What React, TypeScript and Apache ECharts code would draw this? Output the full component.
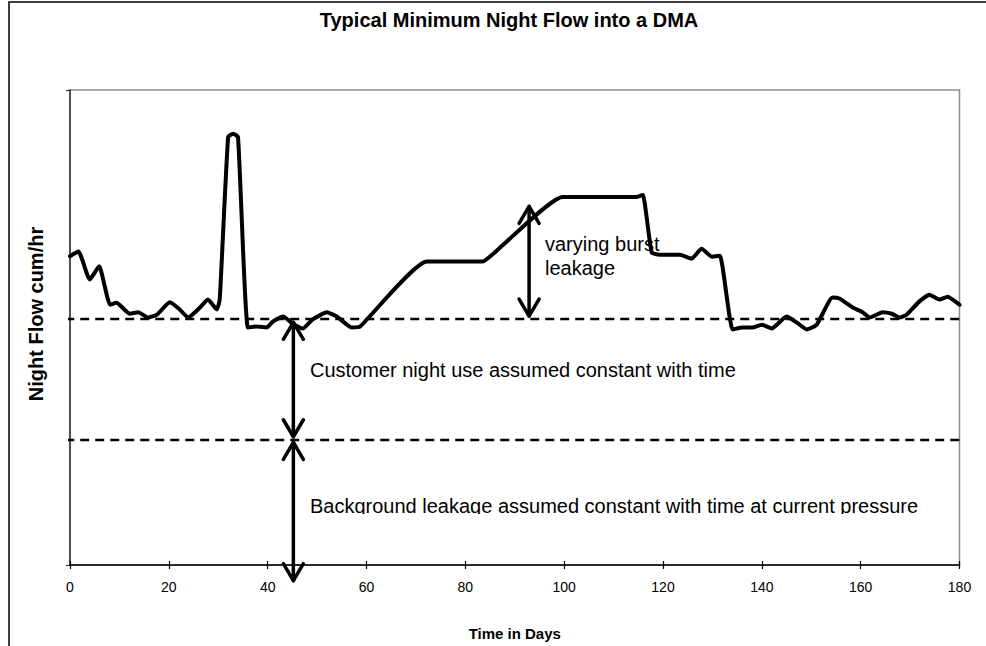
import React, { useEffect, useRef } from "react";
import * as echarts from "echarts";

// ---- data ----
const curveDays = [0, 1.7, 4.0, 5.9, 8.1, 9.4, 12.1, 13.8, 15.8, 17.6, 20.2, 22.2, 23.9, 26.3, 27.9, 29.7, 30.3, 32.0, 33.0, 34.0, 36.0, 37.8, 39.8, 41.1, 43.1, 45.1, 47.1, 49.1, 52.0, 54.0, 57.0, 58.7, 72.2, 83.5, 87.0, 99.7, 114.7, 115.9, 117.7, 119.3, 123.4, 125.8, 127.8, 129.9, 131.5, 134.1, 136.1, 138.1, 140.0, 142.0, 145.0, 147.0, 149.1, 151.1, 154.3, 155.7, 158.4, 160.4, 161.8, 164.4, 166.3, 167.9, 169.3, 171.9, 173.9, 175.9, 177.6, 180];
const curveFlow = [65.0, 66.0, 60.1, 62.9, 54.8, 55.2, 52.9, 53.2, 52.1, 52.7, 55.3, 53.8, 52.1, 54.2, 55.9, 53.8, 55.9, 90.1, 90.8, 90.1, 50.0, 50.2, 50.0, 51.3, 52.3, 50.8, 49.8, 51.7, 53.2, 52.3, 50.0, 50.2, 63.9, 63.9, 66.8, 77.5, 77.5, 77.9, 65.8, 65.3, 65.3, 64.5, 66.6, 64.9, 65.1, 49.6, 50.0, 50.0, 50.6, 49.8, 52.3, 51.1, 49.6, 50.6, 56.3, 56.1, 54.2, 53.2, 52.1, 53.2, 52.9, 52.1, 52.7, 55.5, 56.9, 55.9, 56.5, 54.8];

const customerLevel = 51.8;
const backgroundLevel = 26.3;
const levelDays = [-4, 180];

const arrowDays = [45.2, 45.2, 92.9];
const arrowFrom = [51.1, 25.8, 75.5];
const arrowTo = [27.0, -3.3, 52.4];

const xMin = 0;
const xMax = 180;
const xStep = 20;
const yMin = 0;
const yMax = 100;

const titleText = "Typical Minimum Night Flow into a DMA";
const xTitle = "Time in Days";
const yTitle = "Night Flow cum/hr";
const burstText = "varying burst\nleakage";
const customerText = "Customer night use assumed constant with time";
const backgroundText = "Background leakage assumed constant with time at current pressure";

const FONT = "'Liberation Sans', Arial, Helvetica, sans-serif";

export default function App() {
  const ref = useRef<HTMLDivElement>(null);

  useEffect(() => {
    if (!ref.current) return;
    const chart = echarts.init(ref.current, null, { renderer: "svg" });

    const curveData = curveDays.map((d, i) => [d, curveFlow[i]]);
    const arrowData = arrowDays.map((d, i) => [d, arrowFrom[i], arrowTo[i]]);

    const option: any = {
      animation: false,
      backgroundColor: "#ffffff",
      textStyle: { fontFamily: FONT },
      grid: {
        left: 70,
        right: 26.5,
        top: 90,
        bottom: 80,
        show: true,
        borderColor: "#8c8c8c",
        borderWidth: 1.5,
        backgroundColor: "transparent",
      },
      xAxis: [
        {
          type: "value",
          min: xMin,
          max: xMax,
          interval: xStep,
          position: "bottom",
          axisLine: { show: true, onZero: false, lineStyle: { color: "#000", width: 1.5 } },
          axisTick: { show: true, length: 4, lineStyle: { color: "#000", width: 1.2 } },
          axisLabel: { fontSize: 14, color: "#000", margin: 15, fontFamily: FONT },
          splitLine: { show: false },
          name: xTitle,
          nameLocation: "middle",
          nameGap: 61,
          nameTextStyle: { fontSize: 15, fontWeight: "bold", color: "#000", fontFamily: FONT },
        },
        {
          type: "value",
          min: xMin,
          max: xMax,
          interval: xStep,
          position: "bottom",
          axisLine: { show: false, onZero: false },
          axisTick: { show: true, inside: true, length: 4, lineStyle: { color: "#000", width: 1.2 } },
          axisLabel: { show: false },
          splitLine: { show: false },
        },
      ],
      yAxis: {
        type: "value",
        min: yMin,
        max: yMax,
        interval: yMax - yMin,
        axisLine: { show: true, onZero: false, lineStyle: { color: "#333", width: 1.5 } },
        axisTick: { show: true, length: 4, lineStyle: { color: "#333", width: 1.2 } },
        axisLabel: { show: false },
        splitLine: { show: false },
      },
      series: [
        {
          type: "line",
          name: "Customer night use level",
          data: levelDays.map((d) => [d, customerLevel]),
          symbol: "none",
          clip: false,
          lineStyle: { color: "#000", width: 2.5, type: [9, 6] },
          z: 2,
        },
        {
          type: "line",
          name: "Background leakage level",
          data: levelDays.map((d) => [d, backgroundLevel]),
          symbol: "none",
          clip: false,
          lineStyle: { color: "#000", width: 2.5, type: [9, 6] },
          z: 2,
        },
        {
          type: "line",
          name: "Night flow",
          data: curveData,
          symbol: "none",
          smooth: 0.15,
          lineStyle: { color: "#000", width: 4, cap: "round", join: "round" },
          z: 3,
        },
        {
          type: "custom",
          name: "arrows",
          data: arrowData,
          clip: false,
          z: 4,
          renderItem: (params: any, api: any) => {
            const x = api.value(0);
            const a = api.coord([x, api.value(1)]);
            const b = api.coord([x, api.value(2)]);
            const top = a[1] < b[1] ? a : b;
            const bot = a[1] < b[1] ? b : a;
            const hw = 10;
            const hh = 17;
            const style = { stroke: "#000", lineWidth: 3.5, fill: null, lineCap: "round", lineJoin: "round" };
            return {
              type: "group",
              children: [
                { type: "line", shape: { x1: top[0], y1: top[1], x2: bot[0], y2: bot[1] }, style },
                { type: "polyline", shape: { points: [[top[0] - hw, top[1] + hh], [top[0], top[1]], [top[0] + hw, top[1] + hh]] }, style },
                { type: "polyline", shape: { points: [[bot[0] - hw, bot[1] - hh], [bot[0], bot[1]], [bot[0] + hw, bot[1] - hh]] }, style },
              ],
            };
          },
        },
      ],
      graphic: [
        {
          type: "rect",
          shape: { x: 9, y: 2, width: 1100, height: 800 },
          style: { fill: null, stroke: "#000", lineWidth: 1.5 },
          silent: true,
          z: 0,
        },
        {
          type: "text",
          x: 509,
          y: 20,
          style: { text: titleText, font: `bold 20px ${FONT}`, fill: "#000", align: "center", verticalAlign: "middle" },
        },
        {
          type: "text",
          x: 36,
          y: 314,
          rotation: Math.PI / 2,
          style: { text: yTitle, font: `bold 20px ${FONT}`, fill: "#000", align: "center", verticalAlign: "middle" },
        },
        {
          type: "text",
          x: 545,
          y: 256,
          style: { text: burstText, font: `20px ${FONT}`, fill: "#000", align: "left", verticalAlign: "middle", lineHeight: 24 },
        },
        {
          type: "text",
          x: 310,
          y: 370,
          style: { text: customerText, font: `20px ${FONT}`, fill: "#000", align: "left", verticalAlign: "middle" },
        },
        {
          type: "text",
          x: 310,
          y: 505.5,
          style: { text: backgroundText, font: `20px ${FONT}`, fill: "#000", align: "left", verticalAlign: "middle" },
        },
        {
          type: "rect",
          shape: { x: 305, y: 514, width: 640, height: 9 },
          style: { fill: "#fff", stroke: null },
          silent: true,
          z: 10,
        },
      ],
    };

    chart.setOption(option);
    return () => chart.dispose();
  }, []);

  return <div ref={ref} style={{ position: "absolute", left: 0, top: 0, width: 986, height: 646 }} />;
}
